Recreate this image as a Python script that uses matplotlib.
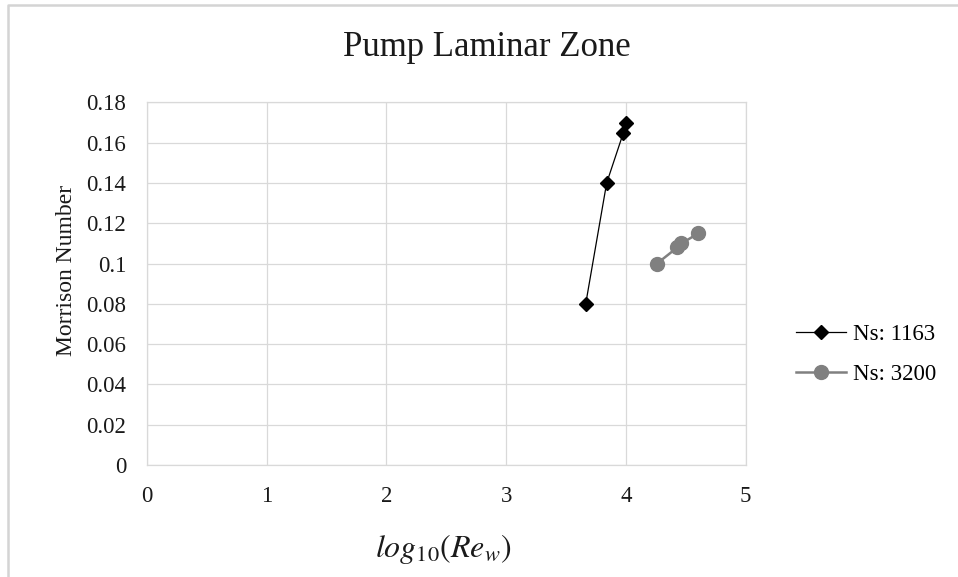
import matplotlib
matplotlib.use("Agg")
import matplotlib.pyplot as plt
from matplotlib.lines import Line2D

# Series data
ns1163_x = [3.665, 3.84, 3.98, 4.005]
ns1163_y = [0.08, 0.14, 0.165, 0.17]
ns3200_x = [4.26, 4.43, 4.465, 4.605]
ns3200_y = [0.100, 0.108, 0.110, 0.115]

x_ticks = [0, 1, 2, 3, 4, 5]
y_ticks = [0, 0.02, 0.04, 0.06, 0.08, 0.1, 0.12, 0.14, 0.16, 0.18]
y_tick_labels = ["0", "0.02", "0.04", "0.06", "0.08", "0.1", "0.12", "0.14", "0.16", "0.18"]

plt.rcParams["font.family"] = ["Liberation Serif", "DejaVu Serif"]
plt.rcParams["mathtext.fontset"] = "stix"

W, H = 958, 577
fig = plt.figure(figsize=(W / 100, H / 100), dpi=100)
fig.patch.set_facecolor("white")

# Chart-area frame (top and left edges)
frame_x = [8 / W, 8 / W, 1.0]
frame_y = [0.0, 1 - 4.5 / H, 1 - 4.5 / H]
fig.add_artist(Line2D(frame_x, frame_y, transform=fig.transFigure,
                      color="#d4d4d4", linewidth=1.8, zorder=0))

ax = fig.add_axes([147 / W, 1 - 465 / H, (745.5 - 147) / W, (465 - 102.5) / H])
ax.set_xlim(0, 5)
ax.set_ylim(0, 0.18)
ax.set_xticks(x_ticks)
ax.set_xticklabels([str(v) for v in x_ticks])
ax.set_yticks(y_ticks)
ax.set_yticklabels(y_tick_labels)
ax.tick_params(length=0, labelsize=16.5, pad=15, colors="#1a1a1a")
ax.grid(True, color="#d9d9d9", linewidth=0.9)
ax.set_axisbelow(True)
for s in ax.spines.values():
    s.set_color("#d9d9d9")
    s.set_linewidth(0.9)

ax.plot(ns1163_x, ns1163_y, color="black", linewidth=0.9, marker="D",
        markersize=7.5, label="Ns: 1163", zorder=3)
ax.plot(ns3200_x, ns3200_y, color="#808080", linewidth=1.8, marker="o",
        markersize=10, label="Ns: 3200", zorder=3)

fig.legend(loc="upper left", bbox_to_anchor=(796 / W, 1 - 324 / H),
           frameon=False, fontsize=16.5, handlelength=2.2, handletextpad=0.3,
           labelspacing=0.81, borderpad=0, borderaxespad=0)

fig.text(487 / W, 1 - 47 / H, "Pump Laminar Zone", ha="center", va="center",
         fontsize=25, color="#1a1a1a")
fig.text(66 / W, 1 - 270 / H, "Morrison Number", ha="center", va="center",
         rotation=90, fontsize=17, color="#1a1a1a")
fig.text(443 / W, 1 - 549 / H, r"$log_{10}(Re_w)$", ha="center", va="center",
         fontsize=23, color="#1a1a1a")

fig.savefig("out.png", dpi=100)
